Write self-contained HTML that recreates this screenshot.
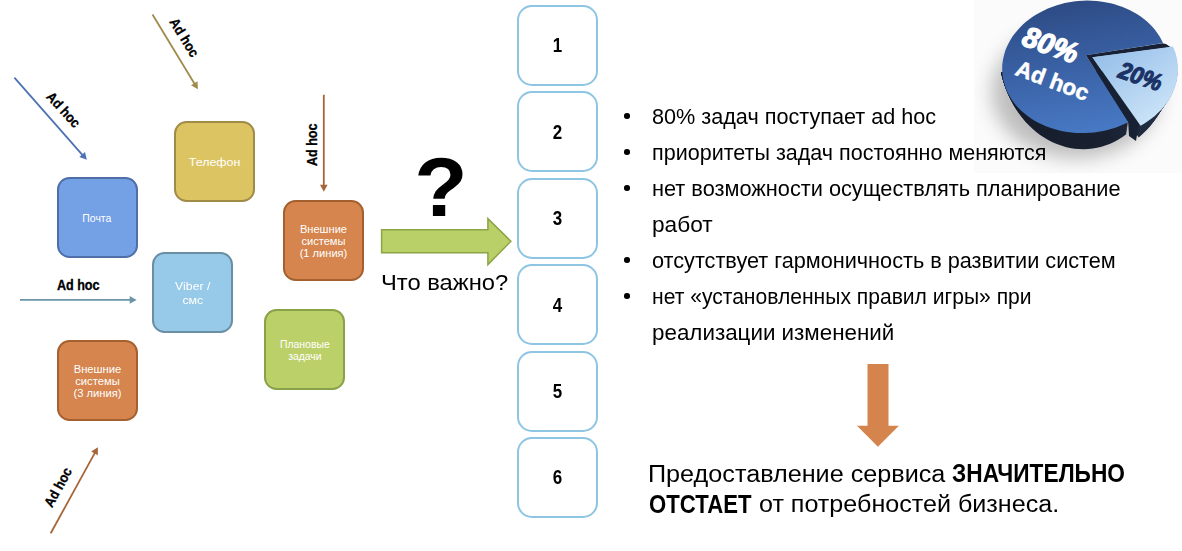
<!DOCTYPE html>
<html><head><meta charset="utf-8">
<style>
html,body{margin:0;padding:0;background:#fff;}
body{width:1182px;height:551px;position:relative;overflow:hidden;font-family:"Liberation Sans",sans-serif;color:#000;}
.a{position:absolute;white-space:nowrap;}
.box{position:absolute;box-sizing:border-box;width:81px;height:81px;border-radius:12.5px;border:2px solid;color:#fff;font-size:10px;line-height:12px;text-align:center;display:flex;align-items:center;justify-content:center;}
.nb{position:absolute;box-sizing:border-box;left:516.8px;width:81.3px;height:81.2px;padding-top:1px;border-radius:15px;border:2.2px solid #8ec5e3;font-weight:bold;font-size:19.5px;text-align:center;display:flex;align-items:center;justify-content:center;}
.nb span{display:inline-block;transform:scaleX(0.87);}
.box span{display:inline-block;}
.lbl{position:absolute;font-weight:bold;font-size:12.5px;white-space:nowrap;transform-origin:center center;}
.bul{position:absolute;width:5.6px;height:5.6px;border-radius:50%;background:#000;left:624.2px;}
.t{position:absolute;white-space:nowrap;font-size:20px;transform-origin:0 0;color:#000;}
</style></head>
<body>
<svg class="a" style="left:0;top:0" width="1182" height="551">
<line x1="152.5" y1="14.5" x2="194.8" y2="84.2" stroke="#9f8b4c" stroke-width="1.8"/>
<polygon points="197.9,89.3 191.0,85.3 197.5,81.3" fill="#9f8b4c"/>
<line x1="14.4" y1="77.6" x2="82.8" y2="155.3" stroke="#4d72b3" stroke-width="1.8"/>
<polygon points="86.8,159.8 79.3,157.1 85.0,152.0" fill="#4d72b3"/>
<line x1="323.8" y1="94.8" x2="323.8" y2="185.7" stroke="#a8653a" stroke-width="1.8"/>
<polygon points="323.8,191.7 320.0,184.7 327.6,184.7" fill="#a8653a"/>
<line x1="20.0" y1="299.9" x2="130.7" y2="299.9" stroke="#6d95aa" stroke-width="1.8"/>
<polygon points="136.7,299.9 129.7,303.7 129.7,296.1" fill="#6d95aa"/>
<line x1="50.7" y1="533.3" x2="95.0" y2="452.6" stroke="#a8653a" stroke-width="1.8"/>
<polygon points="97.9,447.3 97.9,455.3 91.2,451.6" fill="#a8653a"/>
<g font-family="Liberation Sans" font-weight="bold" font-size="14" text-anchor="middle" fill="#000" stroke="#000" stroke-width="0.3">
<text id="ah1" transform="translate(184.3,37.5) rotate(58.7) scale(0.9,1)" y="4.8">Ad hoc</text>
<text id="ah2" transform="translate(63.5,109.75) rotate(47.5) scale(0.9,1)" y="4.8">Ad hoc</text>
<text id="ah3" transform="translate(312.6,144.8) rotate(-90) scale(0.9,1)" y="4.8">Ad hoc</text>
<text id="ah4" transform="translate(78.2,285) scale(0.9,1)" y="4.8">Ad hoc</text>
<text id="ah5" transform="translate(58,487.25) rotate(-61.2) scale(0.9,1)" y="4.8">Ad hoc</text>
</g>
<polygon points="381.6,229.75 487.9,229.75 487.9,218.6 510.9,241.3 487.9,264.6 487.9,252.75 381.6,252.75" fill="#b9cf68" stroke="#8da446" stroke-width="1.5"/>
<text id="qm" x="0" y="0" transform="translate(441,216) scale(1.042,1)" font-family="Liberation Sans" font-weight="bold" font-size="83.7" text-anchor="middle">?</text>
<polygon points="867.5,364 888.5,364 888.5,425.8 898.9,425.8 877.9,446.8 857,425.8 867.5,425.8" fill="#d4844c"/>
</svg>

<div class="box" style="left:174px;top:121px;background:#dcc462;border-color:#a08c48;font-size:11px;"><span style="transform:scaleX(1.13) translate(-0.2px,-0.5px)">Телефон</span></div>
<div class="box" style="left:57px;top:177px;background:#74a0e6;border-color:#4f6fa8;font-size:11px;"><span style="transform:scaleX(0.95) translate(-0.5px,0px)">Почта</span></div>
<div class="box" style="left:283px;top:200px;background:#d5854d;border-color:#a5602f;"><span style="transform:scaleX(1.11) translate(0px,0.6px)">Внешние<br>системы<br>(1 линия)</span></div>
<div class="box" style="left:152px;top:252px;background:#97c9e8;border-color:#6a8fa5;font-size:11px;line-height:14px;"><span style="transform:scaleX(1.12) translate(0px,0px)">Viber /<br>смс</span></div>
<div class="box" style="left:264px;top:309px;background:#bcd069;border-color:#8aa148;"><span style="transform:scaleX(1.04) translate(0px,0.5px)">Плановые<br>задачи</span></div>
<div class="box" style="left:57px;top:340px;background:#d5854d;border-color:#a5602f;"><span style="transform:scaleX(1.12) translate(0px,0.5px)">Внешние<br>системы<br>(3 линия)</span></div>

<div class="nb" style="top:4.9px"><span>1</span></div>
<div class="nb" style="top:91.3px"><span>2</span></div>
<div class="nb" style="top:177.7px"><span>3</span></div>
<div class="nb" style="top:264.1px"><span>4</span></div>
<div class="nb" style="top:350.5px"><span>5</span></div>
<div class="nb" style="top:436.9px"><span>6</span></div>

<svg class="a" style="left:0;top:0" width="1182" height="551" id="pie">
<defs>
<linearGradient id="gm" gradientUnits="userSpaceOnUse" x1="1070" y1="0" x2="1090" y2="130"><stop offset="0" stop-color="#2d4b84"/><stop offset="0.5" stop-color="#3a61a5"/><stop offset="1" stop-color="#4778c3"/></linearGradient>
<linearGradient id="gs" gradientUnits="userSpaceOnUse" x1="1100" y1="50" x2="1150" y2="125"><stop offset="0" stop-color="#96bee9"/><stop offset="1" stop-color="#cbe4f8"/></linearGradient>
<linearGradient id="gd" gradientUnits="userSpaceOnUse" x1="1000" y1="0" x2="1180" y2="0"><stop offset="0" stop-color="#161c2a"/><stop offset="0.6" stop-color="#192131"/><stop offset="1" stop-color="#27344d"/></linearGradient>
<filter id="bl" x="-50%" y="-50%" width="200%" height="200%"><feGaussianBlur stdDeviation="10"/></filter>
<clipPath id="cm"><polygon points="980,74.1 1190,59.6 1190,200 980,200"/></clipPath>
<clipPath id="cs"><polygon points="980,79.4 1190,65.2 1190,200 980,200"/></clipPath>
<clipPath id="imgclip"><rect x="974" y="0" width="208" height="173"/></clipPath>
</defs>
<g clip-path="url(#imgclip)">
<rect x="974" y="0" width="208" height="173" fill="#fbfbfb"/>
<ellipse cx="1076" cy="92" rx="84" ry="66" fill="#000" opacity="0.25" filter="url(#bl)"/>
</g>
<g fill="url(#gd)"><g clip-path="url(#cm)"><path d="M1085.9,67.2 L1158.4,15.9 L1156.7,10.8 L1154.7,5.8 L1152.5,0.9 L1150.1,-3.8 L1147.5,-8.3 L1144.7,-12.7 L1141.7,-16.9 L1138.5,-20.9 L1135.2,-24.7 L1131.6,-28.3 L1128.0,-31.6 L1124.2,-34.7 L1120.2,-37.5 L1116.2,-40.1 L1112.0,-42.4 L1107.8,-44.5 L1103.4,-46.2 L1099.0,-47.7 L1094.6,-48.9 L1090.1,-49.8 L1085.6,-50.4 L1081.0,-50.7 L1076.5,-50.7 L1072.0,-50.4 L1067.5,-49.8 L1063.0,-48.9 L1058.6,-47.7 L1054.3,-46.2 L1050.1,-44.4 L1045.9,-42.4 L1041.8,-40.1 L1037.9,-37.5 L1034.1,-34.6 L1030.4,-31.5 L1026.9,-28.2 L1023.6,-24.6 L1020.4,-20.8 L1017.4,-16.8 L1014.6,-12.6 L1012.0,-8.2 L1009.5,-3.7 L1007.4,1.0 L1005.4,5.9 L1003.6,10.9 L1002.1,16.0 L1000.8,21.2 L999.8,26.5 L999.0,31.9 L998.5,37.3 L998.2,42.7 L998.1,48.2 L998.3,53.6 L998.7,59.1 L999.4,64.5 L1000.4,69.9 L1001.5,75.2 L1003.0,80.5 L1004.6,85.6 L1006.5,90.7 L1008.6,95.6 L1010.9,100.3 L1013.4,105.0 L1016.1,109.4 L1019.1,113.7 L1022.2,117.8 L1025.4,121.7 L1028.9,125.3 L1032.5,128.8 L1036.2,131.9 L1040.1,134.9 L1044.1,137.6 L1048.2,140.0 L1052.5,142.2 L1056.8,144.0 L1061.1,145.6 L1065.6,146.9 L1070.0,148.0 L1074.6,148.7 L1079.1,149.1 L1083.6,149.2 L1088.1,149.0 L1092.7,148.6 L1097.1,147.8 L1101.5,146.7 L1105.9,145.3 L1110.2,143.7 L1114.4,141.8 L1118.5,139.6 L1122.5,137.1 L1126.3,134.3Z"/><path d="M1085.9,66.2 L1158.8,18.2 L1157.0,13.2 L1155.1,8.3 L1152.9,3.6 L1150.5,-0.9 L1147.9,-5.4 L1145.1,-9.6 L1142.1,-13.7 L1139.0,-17.6 L1135.6,-21.3 L1132.1,-24.7 L1128.5,-28.0 L1124.7,-31.0 L1120.7,-33.7 L1116.7,-36.2 L1112.5,-38.5 L1108.3,-40.4 L1104.0,-42.1 L1099.6,-43.6 L1095.1,-44.7 L1090.6,-45.6 L1086.1,-46.1 L1081.6,-46.4 L1077.0,-46.4 L1072.5,-46.1 L1068.0,-45.5 L1063.6,-44.6 L1059.2,-43.5 L1054.8,-42.0 L1050.6,-40.3 L1046.4,-38.3 L1042.4,-36.0 L1038.4,-33.5 L1034.6,-30.7 L1030.9,-27.7 L1027.4,-24.4 L1024.0,-21.0 L1020.8,-17.3 L1017.8,-13.4 L1015.0,-9.3 L1012.4,-5.0 L1010.0,-0.6 L1007.8,4.0 L1005.8,8.7 L1004.0,13.6 L1002.5,18.6 L1001.2,23.6 L1000.2,28.8 L999.4,34.0 L998.8,39.2 L998.5,44.5 L998.4,49.8 L998.6,55.2 L999.1,60.5 L999.7,65.7 L1000.7,71.0 L1001.8,76.1 L1003.2,81.2 L1004.9,86.2 L1006.7,91.1 L1008.8,95.9 L1011.1,100.5 L1013.6,105.0 L1016.3,109.3 L1019.3,113.5 L1022.4,117.4 L1025.6,121.2 L1029.1,124.8 L1032.7,128.1 L1036.4,131.2 L1040.3,134.0 L1044.3,136.6 L1048.4,139.0 L1052.6,141.1 L1056.9,142.9 L1061.3,144.4 L1065.7,145.7 L1070.2,146.7 L1074.7,147.4 L1079.2,147.8 L1083.7,147.9 L1088.3,147.7 L1092.8,147.2 L1097.3,146.4 L1101.7,145.4 L1106.0,144.1 L1110.3,142.5 L1114.5,140.6 L1118.6,138.4 L1122.6,136.0 L1126.5,133.3Z"/><path d="M1085.9,65.2 L1159.2,20.4 L1157.4,15.6 L1155.5,10.9 L1153.3,6.3 L1150.9,1.9 L1148.4,-2.4 L1145.6,-6.5 L1142.6,-10.5 L1139.4,-14.3 L1136.1,-17.8 L1132.6,-21.2 L1128.9,-24.3 L1125.1,-27.2 L1121.2,-29.9 L1117.2,-32.3 L1113.0,-34.5 L1108.8,-36.4 L1104.5,-38.0 L1100.1,-39.4 L1095.6,-40.5 L1091.1,-41.3 L1086.6,-41.9 L1082.1,-42.1 L1077.6,-42.1 L1073.0,-41.8 L1068.5,-41.2 L1064.1,-40.4 L1059.7,-39.2 L1055.3,-37.8 L1051.1,-36.1 L1046.9,-34.2 L1042.9,-32.0 L1038.9,-29.5 L1035.1,-26.8 L1031.4,-23.9 L1027.9,-20.7 L1024.5,-17.3 L1021.3,-13.7 L1018.3,-9.9 L1015.5,-5.9 L1012.8,-1.8 L1010.4,2.5 L1008.2,7.0 L1006.2,11.6 L1004.5,16.3 L1002.9,21.1 L1001.6,26.0 L1000.6,31.0 L999.8,36.1 L999.2,41.2 L998.9,46.3 L998.8,51.5 L999.0,56.7 L999.4,61.8 L1000.0,66.9 L1001.0,72.0 L1002.1,77.0 L1003.5,82.0 L1005.1,86.8 L1007.0,91.6 L1009.1,96.2 L1011.4,100.7 L1013.9,105.0 L1016.6,109.2 L1019.5,113.3 L1022.6,117.1 L1025.8,120.7 L1029.3,124.2 L1032.8,127.4 L1036.6,130.4 L1040.5,133.2 L1044.4,135.7 L1048.6,138.0 L1052.8,140.0 L1057.0,141.7 L1061.4,143.2 L1065.8,144.4 L1070.3,145.4 L1074.8,146.0 L1079.3,146.4 L1083.9,146.5 L1088.4,146.3 L1092.9,145.9 L1097.4,145.1 L1101.8,144.1 L1106.2,142.8 L1110.5,141.2 L1114.7,139.4 L1118.8,137.3 L1122.8,134.9 L1126.7,132.3Z"/><path d="M1085.9,64.2 L1159.5,22.7 L1157.8,18.0 L1155.9,13.4 L1153.7,9.0 L1151.4,4.7 L1148.8,0.5 L1146.0,-3.5 L1143.0,-7.3 L1139.9,-10.9 L1136.5,-14.4 L1133.1,-17.6 L1129.4,-20.7 L1125.6,-23.5 L1121.7,-26.0 L1117.7,-28.4 L1113.5,-30.5 L1109.3,-32.3 L1105.0,-33.9 L1100.6,-35.2 L1096.1,-36.3 L1091.7,-37.1 L1087.1,-37.6 L1082.6,-37.9 L1078.1,-37.8 L1073.6,-37.5 L1069.1,-36.9 L1064.6,-36.1 L1060.2,-35.0 L1055.9,-33.6 L1051.6,-32.0 L1047.4,-30.1 L1043.4,-27.9 L1039.4,-25.5 L1035.6,-22.9 L1031.9,-20.0 L1028.4,-16.9 L1025.0,-13.7 L1021.8,-10.2 L1018.8,-6.5 L1015.9,-2.6 L1013.3,1.4 L1010.9,5.6 L1008.6,9.9 L1006.6,14.4 L1004.9,19.0 L1003.3,23.7 L1002.0,28.4 L1000.9,33.3 L1000.1,38.2 L999.5,43.2 L999.2,48.1 L999.1,53.2 L999.3,58.2 L999.7,63.2 L1000.4,68.1 L1001.3,73.0 L1002.4,77.9 L1003.8,82.7 L1005.4,87.4 L1007.2,92.0 L1009.3,96.5 L1011.6,100.8 L1014.1,105.1 L1016.8,109.1 L1019.7,113.0 L1022.8,116.7 L1026.0,120.3 L1029.4,123.6 L1033.0,126.7 L1036.8,129.6 L1040.6,132.3 L1044.6,134.8 L1048.7,137.0 L1052.9,138.9 L1057.2,140.6 L1061.6,142.0 L1066.0,143.2 L1070.4,144.1 L1074.9,144.7 L1079.5,145.1 L1084.0,145.2 L1088.5,145.0 L1093.0,144.5 L1097.5,143.8 L1101.9,142.8 L1106.3,141.5 L1110.6,140.0 L1114.8,138.2 L1118.9,136.1 L1122.9,133.8 L1126.8,131.3Z"/><path d="M1085.9,63.2 L1159.9,24.9 L1158.2,20.4 L1156.3,16.0 L1154.1,11.7 L1151.8,7.5 L1149.2,3.5 L1146.4,-0.4 L1143.5,-4.1 L1140.3,-7.6 L1137.0,-10.9 L1133.5,-14.1 L1129.9,-17.0 L1126.1,-19.7 L1122.2,-22.2 L1118.2,-24.5 L1114.0,-26.5 L1109.8,-28.3 L1105.5,-29.8 L1101.1,-31.1 L1096.7,-32.1 L1092.2,-32.9 L1087.7,-33.4 L1083.1,-33.6 L1078.6,-33.5 L1074.1,-33.2 L1069.6,-32.7 L1065.1,-31.8 L1060.7,-30.7 L1056.4,-29.4 L1052.1,-27.8 L1047.9,-25.9 L1043.9,-23.9 L1039.9,-21.5 L1036.1,-19.0 L1032.4,-16.2 L1028.8,-13.2 L1025.5,-10.0 L1022.3,-6.6 L1019.2,-3.0 L1016.4,0.7 L1013.7,4.6 L1011.3,8.7 L1009.1,12.9 L1007.1,17.2 L1005.3,21.7 L1003.7,26.2 L1002.4,30.9 L1001.3,35.6 L1000.5,40.3 L999.9,45.1 L999.6,50.0 L999.5,54.8 L999.6,59.7 L1000.0,64.5 L1000.7,69.3 L1001.5,74.1 L1002.7,78.8 L1004.0,83.4 L1005.7,88.0 L1007.5,92.4 L1009.5,96.8 L1011.8,101.0 L1014.3,105.1 L1017.0,109.0 L1019.9,112.8 L1023.0,116.4 L1026.2,119.8 L1029.6,123.0 L1033.2,126.1 L1036.9,128.9 L1040.8,131.5 L1044.8,133.8 L1048.9,135.9 L1053.1,137.8 L1057.3,139.4 L1061.7,140.8 L1066.1,141.9 L1070.6,142.8 L1075.1,143.4 L1079.6,143.8 L1084.1,143.8 L1088.7,143.6 L1093.2,143.2 L1097.6,142.4 L1102.1,141.5 L1106.4,140.2 L1110.7,138.7 L1115.0,137.0 L1119.1,135.0 L1123.1,132.8 L1127.0,130.3Z"/><path d="M1085.9,62.2 L1160.3,27.2 L1158.6,22.8 L1156.7,18.5 L1154.6,14.4 L1152.2,10.3 L1149.6,6.5 L1146.9,2.7 L1143.9,-0.9 L1140.8,-4.3 L1137.5,-7.5 L1134.0,-10.5 L1130.4,-13.4 L1126.6,-16.0 L1122.7,-18.4 L1118.7,-20.6 L1114.5,-22.5 L1110.3,-24.2 L1106.0,-25.7 L1101.6,-26.9 L1097.2,-27.9 L1092.7,-28.6 L1088.2,-29.1 L1083.6,-29.3 L1079.1,-29.3 L1074.6,-29.0 L1070.1,-28.4 L1065.6,-27.6 L1061.2,-26.5 L1056.9,-25.2 L1052.6,-23.6 L1048.4,-21.8 L1044.4,-19.8 L1040.4,-17.5 L1036.6,-15.1 L1032.9,-12.4 L1029.3,-9.5 L1025.9,-6.3 L1022.7,-3.1 L1019.7,0.4 L1016.8,4.1 L1014.2,7.9 L1011.7,11.8 L1009.5,15.9 L1007.5,20.1 L1005.7,24.4 L1004.1,28.8 L1002.8,33.3 L1001.7,37.8 L1000.9,42.4 L1000.3,47.1 L999.9,51.8 L999.8,56.5 L999.9,61.2 L1000.3,65.9 L1001.0,70.5 L1001.8,75.1 L1003.0,79.7 L1004.3,84.2 L1005.9,88.6 L1007.7,92.9 L1009.8,97.1 L1012.1,101.2 L1014.5,105.1 L1017.2,108.9 L1020.1,112.6 L1023.2,116.1 L1026.4,119.4 L1029.8,122.5 L1033.4,125.4 L1037.1,128.1 L1040.9,130.6 L1044.9,132.9 L1049.0,134.9 L1053.2,136.7 L1057.5,138.3 L1061.8,139.6 L1066.2,140.7 L1070.7,141.5 L1075.2,142.1 L1079.7,142.4 L1084.3,142.5 L1088.8,142.3 L1093.3,141.8 L1097.8,141.1 L1102.2,140.1 L1106.6,138.9 L1110.9,137.5 L1115.1,135.8 L1119.2,133.8 L1123.2,131.7 L1127.1,129.3Z"/><path d="M1085.9,61.2 L1160.7,29.4 L1159.0,25.2 L1157.1,21.1 L1155.0,17.1 L1152.6,13.2 L1150.1,9.4 L1147.3,5.8 L1144.4,2.3 L1141.2,-0.9 L1137.9,-4.1 L1134.5,-7.0 L1130.8,-9.7 L1127.1,-12.2 L1123.2,-14.6 L1119.2,-16.7 L1115.0,-18.5 L1110.8,-20.2 L1106.5,-21.6 L1102.1,-22.8 L1097.7,-23.7 L1093.2,-24.4 L1088.7,-24.8 L1084.2,-25.0 L1079.6,-25.0 L1075.1,-24.7 L1070.6,-24.1 L1066.2,-23.3 L1061.7,-22.3 L1057.4,-21.0 L1053.1,-19.5 L1049.0,-17.7 L1044.9,-15.8 L1040.9,-13.6 L1037.1,-11.1 L1033.4,-8.5 L1029.8,-5.7 L1026.4,-2.7 L1023.2,0.5 L1020.1,3.9 L1017.3,7.4 L1014.6,11.1 L1012.2,14.9 L1009.9,18.8 L1007.9,22.9 L1006.1,27.1 L1004.5,31.3 L1003.2,35.7 L1002.1,40.1 L1001.2,44.5 L1000.6,49.1 L1000.3,53.6 L1000.1,58.1 L1000.3,62.7 L1000.6,67.2 L1001.3,71.7 L1002.1,76.2 L1003.3,80.6 L1004.6,84.9 L1006.2,89.2 L1008.0,93.3 L1010.0,97.4 L1012.3,101.3 L1014.8,105.2 L1017.4,108.8 L1020.3,112.4 L1023.4,115.7 L1026.6,118.9 L1030.0,121.9 L1033.6,124.7 L1037.3,127.3 L1041.1,129.7 L1045.1,131.9 L1049.2,133.9 L1053.3,135.6 L1057.6,137.1 L1062.0,138.4 L1066.4,139.5 L1070.8,140.2 L1075.3,140.8 L1079.9,141.1 L1084.4,141.1 L1088.9,140.9 L1093.4,140.5 L1097.9,139.8 L1102.3,138.8 L1106.7,137.7 L1111.0,136.2 L1115.2,134.6 L1119.4,132.7 L1123.4,130.6 L1127.3,128.3Z"/><path d="M1085.9,60.2 L1161.1,31.7 L1159.4,27.6 L1157.5,23.6 L1155.4,19.7 L1153.0,16.0 L1150.5,12.4 L1147.7,8.9 L1144.8,5.5 L1141.7,2.4 L1138.4,-0.6 L1134.9,-3.4 L1131.3,-6.1 L1127.6,-8.5 L1123.7,-10.7 L1119.6,-12.8 L1115.5,-14.6 L1111.3,-16.1 L1107.0,-17.5 L1102.6,-18.6 L1098.2,-19.5 L1093.7,-20.2 L1089.2,-20.6 L1084.7,-20.8 L1080.2,-20.7 L1075.6,-20.4 L1071.1,-19.8 L1066.7,-19.1 L1062.3,-18.0 L1057.9,-16.8 L1053.6,-15.3 L1049.5,-13.6 L1045.4,-11.7 L1041.4,-9.6 L1037.6,-7.2 L1033.9,-4.7 L1030.3,-2.0 L1026.9,1.0 L1023.7,4.1 L1020.6,7.3 L1017.7,10.7 L1015.1,14.3 L1012.6,18.0 L1010.4,21.8 L1008.3,25.7 L1006.5,29.8 L1004.9,33.9 L1003.6,38.1 L1002.5,42.3 L1001.6,46.7 L1001.0,51.0 L1000.6,55.4 L1000.5,59.8 L1000.6,64.2 L1001.0,68.6 L1001.6,72.9 L1002.4,77.2 L1003.5,81.5 L1004.9,85.7 L1006.4,89.8 L1008.3,93.8 L1010.3,97.7 L1012.5,101.5 L1015.0,105.2 L1017.6,108.7 L1020.5,112.1 L1023.6,115.4 L1026.8,118.4 L1030.2,121.3 L1033.7,124.0 L1037.4,126.6 L1041.3,128.9 L1045.2,131.0 L1049.3,132.9 L1053.5,134.5 L1057.8,136.0 L1062.1,137.2 L1066.5,138.2 L1071.0,139.0 L1075.5,139.5 L1080.0,139.7 L1084.5,139.8 L1089.1,139.6 L1093.6,139.1 L1098.0,138.4 L1102.5,137.5 L1106.9,136.4 L1111.2,135.0 L1115.4,133.4 L1119.5,131.5 L1123.5,129.5 L1127.4,127.2Z"/><path d="M1085.9,59.2 L1161.4,33.9 L1159.8,30.0 L1157.9,26.2 L1155.8,22.4 L1153.5,18.8 L1150.9,15.3 L1148.2,12.0 L1145.3,8.8 L1142.1,5.7 L1138.9,2.8 L1135.4,0.1 L1131.8,-2.4 L1128.0,-4.8 L1124.1,-6.9 L1120.1,-8.8 L1116.0,-10.6 L1111.8,-12.1 L1107.5,-13.4 L1103.1,-14.5 L1098.7,-15.3 L1094.2,-15.9 L1089.7,-16.3 L1085.2,-16.5 L1080.7,-16.4 L1076.2,-16.1 L1071.7,-15.6 L1067.2,-14.8 L1062.8,-13.8 L1058.4,-12.6 L1054.2,-11.2 L1050.0,-9.5 L1045.9,-7.6 L1041.9,-5.6 L1038.1,-3.3 L1034.3,-0.9 L1030.8,1.8 L1027.4,4.6 L1024.1,7.6 L1021.1,10.8 L1018.2,14.1 L1015.5,17.5 L1013.0,21.1 L1010.8,24.8 L1008.7,28.6 L1006.9,32.5 L1005.3,36.4 L1004.0,40.5 L1002.8,44.6 L1002.0,48.8 L1001.3,53.0 L1001.0,57.2 L1000.8,61.4 L1000.9,65.7 L1001.3,69.9 L1001.9,74.1 L1002.7,78.3 L1003.8,82.4 L1005.1,86.4 L1006.7,90.4 L1008.5,94.2 L1010.5,98.0 L1012.8,101.7 L1015.2,105.2 L1017.9,108.6 L1020.7,111.9 L1023.8,115.0 L1027.0,118.0 L1030.4,120.8 L1033.9,123.4 L1037.6,125.8 L1041.4,128.0 L1045.4,130.0 L1049.5,131.9 L1053.6,133.5 L1057.9,134.8 L1062.3,136.0 L1066.7,137.0 L1071.1,137.7 L1075.6,138.2 L1080.1,138.4 L1084.7,138.4 L1089.2,138.2 L1093.7,137.8 L1098.2,137.1 L1102.6,136.2 L1107.0,135.1 L1111.3,133.7 L1115.5,132.2 L1119.6,130.4 L1123.7,128.4 L1127.6,126.2Z"/><path d="M1085.9,58.2 L1161.8,36.2 L1160.2,32.4 L1158.3,28.7 L1156.2,25.1 L1153.9,21.6 L1151.3,18.3 L1148.6,15.0 L1145.7,12.0 L1142.6,9.0 L1139.3,6.3 L1135.9,3.7 L1132.3,1.2 L1128.5,-1.0 L1124.6,-3.1 L1120.6,-4.9 L1116.5,-6.6 L1112.3,-8.0 L1108.0,-9.3 L1103.7,-10.3 L1099.2,-11.1 L1094.8,-11.7 L1090.2,-12.1 L1085.7,-12.2 L1081.2,-12.1 L1076.7,-11.8 L1072.2,-11.3 L1067.7,-10.5 L1063.3,-9.6 L1058.9,-8.4 L1054.7,-7.0 L1050.5,-5.4 L1046.4,-3.6 L1042.4,-1.6 L1038.6,0.6 L1034.8,3.0 L1031.3,5.5 L1027.8,8.3 L1024.6,11.2 L1021.5,14.2 L1018.7,17.4 L1016.0,20.7 L1013.5,24.2 L1011.2,27.7 L1009.2,31.4 L1007.3,35.2 L1005.7,39.0 L1004.4,42.9 L1003.2,46.9 L1002.3,50.9 L1001.7,54.9 L1001.3,59.0 L1001.2,63.1 L1001.3,67.2 L1001.6,71.3 L1002.2,75.3 L1003.0,79.3 L1004.1,83.2 L1005.4,87.1 L1007.0,91.0 L1008.8,94.7 L1010.8,98.3 L1013.0,101.8 L1015.4,105.3 L1018.1,108.5 L1020.9,111.7 L1024.0,114.7 L1027.2,117.5 L1030.5,120.2 L1034.1,122.7 L1037.8,125.0 L1041.6,127.1 L1045.6,129.1 L1049.6,130.8 L1053.8,132.4 L1058.1,133.7 L1062.4,134.8 L1066.8,135.7 L1071.3,136.4 L1075.7,136.8 L1080.3,137.1 L1084.8,137.1 L1089.3,136.9 L1093.8,136.4 L1098.3,135.8 L1102.7,134.9 L1107.1,133.8 L1111.4,132.5 L1115.7,131.0 L1119.8,129.3 L1123.8,127.3 L1127.7,125.2Z"/><path d="M1085.9,57.2 L1162.2,38.4 L1160.6,34.8 L1158.7,31.2 L1156.6,27.8 L1154.3,24.5 L1151.8,21.2 L1149.1,18.1 L1146.1,15.2 L1143.0,12.4 L1139.8,9.7 L1136.3,7.2 L1132.7,4.9 L1129.0,2.7 L1125.1,0.8 L1121.1,-1.0 L1117.0,-2.6 L1112.8,-4.0 L1108.5,-5.2 L1104.2,-6.1 L1099.7,-6.9 L1095.3,-7.5 L1090.8,-7.8 L1086.2,-7.9 L1081.7,-7.8 L1077.2,-7.5 L1072.7,-7.0 L1068.2,-6.3 L1063.8,-5.3 L1059.5,-4.2 L1055.2,-2.8 L1051.0,-1.3 L1046.9,0.5 L1042.9,2.4 L1039.0,4.5 L1035.3,6.8 L1031.7,9.3 L1028.3,11.9 L1025.1,14.7 L1022.0,17.7 L1019.1,20.7 L1016.4,23.9 L1013.9,27.3 L1011.6,30.7 L1009.6,34.2 L1007.7,37.8 L1006.1,41.5 L1004.7,45.3 L1003.6,49.1 L1002.7,53.0 L1002.1,56.9 L1001.7,60.8 L1001.5,64.8 L1001.6,68.7 L1001.9,72.6 L1002.5,76.5 L1003.3,80.3 L1004.4,84.1 L1005.7,87.9 L1007.2,91.5 L1009.0,95.1 L1011.0,98.6 L1013.2,102.0 L1015.7,105.3 L1018.3,108.4 L1021.1,111.5 L1024.2,114.3 L1027.4,117.1 L1030.7,119.6 L1034.3,122.0 L1037.9,124.2 L1041.8,126.3 L1045.7,128.1 L1049.8,129.8 L1053.9,131.3 L1058.2,132.5 L1062.5,133.6 L1066.9,134.5 L1071.4,135.1 L1075.9,135.5 L1080.4,135.7 L1084.9,135.7 L1089.4,135.5 L1094.0,135.1 L1098.4,134.4 L1102.9,133.6 L1107.3,132.5 L1111.6,131.3 L1115.8,129.8 L1119.9,128.1 L1124.0,126.3 L1127.9,124.2Z"/><path d="M1085.9,56.2 L1162.6,40.7 L1160.9,37.2 L1159.1,33.8 L1157.0,30.5 L1154.7,27.3 L1152.2,24.2 L1149.5,21.2 L1146.6,18.4 L1143.5,15.7 L1140.2,13.1 L1136.8,10.7 L1133.2,8.5 L1129.5,6.5 L1125.6,4.6 L1121.6,2.9 L1117.5,1.4 L1113.3,0.1 L1109.0,-1.1 L1104.7,-2.0 L1100.3,-2.7 L1095.8,-3.2 L1091.3,-3.5 L1086.8,-3.7 L1082.2,-3.6 L1077.7,-3.2 L1073.2,-2.7 L1068.7,-2.0 L1064.3,-1.1 L1060.0,0.0 L1055.7,1.3 L1051.5,2.8 L1047.4,4.5 L1043.4,6.4 L1039.5,8.4 L1035.8,10.7 L1032.2,13.0 L1028.8,15.6 L1025.5,18.3 L1022.5,21.1 L1019.6,24.1 L1016.9,27.1 L1014.4,30.4 L1012.1,33.7 L1010.0,37.1 L1008.1,40.5 L1006.5,44.1 L1005.1,47.7 L1004.0,51.4 L1003.1,55.1 L1002.4,58.9 L1002.0,62.6 L1001.8,66.4 L1001.9,70.2 L1002.2,74.0 L1002.8,77.7 L1003.6,81.4 L1004.7,85.0 L1006.0,88.6 L1007.5,92.1 L1009.3,95.6 L1011.3,98.9 L1013.5,102.2 L1015.9,105.3 L1018.5,108.3 L1021.3,111.2 L1024.4,114.0 L1027.5,116.6 L1030.9,119.1 L1034.4,121.3 L1038.1,123.5 L1041.9,125.4 L1045.9,127.2 L1049.9,128.8 L1054.1,130.2 L1058.3,131.4 L1062.7,132.4 L1067.1,133.2 L1071.5,133.8 L1076.0,134.2 L1080.5,134.4 L1085.0,134.4 L1089.6,134.2 L1094.1,133.7 L1098.6,133.1 L1103.0,132.3 L1107.4,131.2 L1111.7,130.0 L1115.9,128.6 L1120.1,127.0 L1124.1,125.2 L1128.0,123.2Z"/></g><g clip-path="url(#cs)"><path d="M1092.4,71.3 L1168.3,19.0 L1169.6,23.2 L1170.8,27.5 L1171.8,31.9 L1172.6,36.3 L1173.3,40.7 L1173.8,45.1 L1174.1,49.6 L1174.3,54.1 L1174.3,58.6 L1174.1,63.1 L1173.8,67.5 L1173.3,71.9 L1172.6,76.3 L1171.8,80.7 L1170.8,85.0 L1169.7,89.2 L1168.4,93.4 L1166.9,97.4 L1165.3,101.4 L1163.5,105.3 L1161.6,109.1 L1159.6,112.8 L1157.4,116.3 L1155.1,119.8 L1152.6,123.1 L1150.1,126.2 L1147.4,129.3 L1144.6,132.1 L1141.7,134.8 L1138.7,137.4Z"/><path d="M1092.4,70.1 L1168.7,21.3 L1170.0,25.4 L1171.1,29.6 L1172.1,33.8 L1173.0,38.1 L1173.6,42.4 L1174.1,46.7 L1174.4,51.0 L1174.6,55.4 L1174.6,59.8 L1174.4,64.1 L1174.1,68.4 L1173.6,72.7 L1172.9,77.0 L1172.1,81.2 L1171.1,85.4 L1169.9,89.5 L1168.6,93.6 L1167.1,97.5 L1165.5,101.4 L1163.8,105.2 L1161.8,108.9 L1159.8,112.5 L1157.6,115.9 L1155.3,119.3 L1152.8,122.5 L1150.3,125.6 L1147.6,128.5 L1144.8,131.3 L1141.9,133.9 L1138.8,136.4Z"/><path d="M1092.4,69.0 L1169.1,23.6 L1170.4,27.6 L1171.5,31.6 L1172.5,35.7 L1173.3,39.9 L1174.0,44.0 L1174.4,48.2 L1174.8,52.5 L1174.9,56.7 L1174.9,60.9 L1174.7,65.2 L1174.4,69.4 L1173.8,73.5 L1173.2,77.7 L1172.3,81.8 L1171.3,85.8 L1170.2,89.8 L1168.8,93.8 L1167.4,97.6 L1165.7,101.4 L1164.0,105.1 L1162.1,108.7 L1160.0,112.1 L1157.8,115.5 L1155.5,118.8 L1153.0,121.9 L1150.4,124.9 L1147.7,127.7 L1144.9,130.4 L1142.0,133.0 L1139.0,135.4Z"/><path d="M1092.4,67.8 L1169.5,25.9 L1170.8,29.7 L1171.9,33.7 L1172.8,37.6 L1173.6,41.7 L1174.3,45.7 L1174.8,49.8 L1175.1,53.9 L1175.2,58.0 L1175.2,62.1 L1175.0,66.2 L1174.6,70.3 L1174.1,74.3 L1173.4,78.4 L1172.6,82.3 L1171.6,86.3 L1170.4,90.2 L1169.1,94.0 L1167.6,97.7 L1166.0,101.4 L1164.2,105.0 L1162.3,108.4 L1160.2,111.8 L1158.0,115.1 L1155.7,118.2 L1153.2,121.3 L1150.6,124.2 L1147.9,127.0 L1145.1,129.6 L1142.2,132.1 L1139.2,134.5Z"/><path d="M1092.4,66.6 L1169.9,28.2 L1171.1,31.9 L1172.2,35.7 L1173.2,39.6 L1174.0,43.5 L1174.6,47.4 L1175.1,51.3 L1175.4,55.3 L1175.5,59.3 L1175.5,63.3 L1175.3,67.2 L1174.9,71.2 L1174.4,75.1 L1173.7,79.0 L1172.9,82.9 L1171.8,86.7 L1170.7,90.5 L1169.3,94.2 L1167.8,97.8 L1166.2,101.4 L1164.4,104.8 L1162.5,108.2 L1160.4,111.5 L1158.2,114.7 L1155.8,117.7 L1153.4,120.7 L1150.8,123.5 L1148.1,126.2 L1145.3,128.8 L1142.3,131.2 L1139.3,133.5Z"/><path d="M1092.4,65.5 L1170.2,30.5 L1171.5,34.1 L1172.6,37.8 L1173.6,41.5 L1174.3,45.3 L1175.0,49.1 L1175.4,52.9 L1175.7,56.7 L1175.8,60.6 L1175.8,64.4 L1175.6,68.3 L1175.2,72.1 L1174.7,75.9 L1174.0,79.7 L1173.1,83.5 L1172.1,87.2 L1170.9,90.8 L1169.6,94.4 L1168.1,97.9 L1166.4,101.3 L1164.6,104.7 L1162.7,108.0 L1160.6,111.2 L1158.4,114.2 L1156.0,117.2 L1153.6,120.1 L1151.0,122.8 L1148.2,125.4 L1145.4,127.9 L1142.5,130.3 L1139.5,132.5Z"/><path d="M1092.4,64.3 L1170.6,32.7 L1171.9,36.3 L1173.0,39.8 L1173.9,43.4 L1174.7,47.1 L1175.3,50.7 L1175.8,54.4 L1176.0,58.2 L1176.2,61.9 L1176.1,65.6 L1175.9,69.3 L1175.5,73.0 L1175.0,76.7 L1174.3,80.4 L1173.4,84.0 L1172.3,87.6 L1171.1,91.1 L1169.8,94.6 L1168.3,98.0 L1166.6,101.3 L1164.8,104.6 L1162.9,107.8 L1160.8,110.8 L1158.6,113.8 L1156.2,116.7 L1153.7,119.5 L1151.1,122.1 L1148.4,124.7 L1145.6,127.1 L1142.7,129.4 L1139.6,131.5Z"/><path d="M1092.4,63.1 L1171.0,35.0 L1172.3,38.4 L1173.3,41.9 L1174.3,45.3 L1175.0,48.9 L1175.6,52.4 L1176.1,56.0 L1176.4,59.6 L1176.5,63.2 L1176.4,66.8 L1176.2,70.4 L1175.8,74.0 L1175.2,77.5 L1174.5,81.1 L1173.6,84.6 L1172.6,88.0 L1171.4,91.4 L1170.0,94.8 L1168.5,98.1 L1166.9,101.3 L1165.0,104.5 L1163.1,107.5 L1161.0,110.5 L1158.8,113.4 L1156.4,116.2 L1153.9,118.9 L1151.3,121.5 L1148.6,123.9 L1145.8,126.3 L1142.8,128.5 L1139.8,130.6Z"/><path d="M1092.4,62.0 L1171.4,37.3 L1172.6,40.6 L1173.7,43.9 L1174.6,47.3 L1175.4,50.7 L1176.0,54.1 L1176.4,57.5 L1176.7,61.0 L1176.8,64.5 L1176.7,68.0 L1176.5,71.4 L1176.1,74.9 L1175.5,78.3 L1174.8,81.7 L1173.9,85.1 L1172.8,88.5 L1171.6,91.8 L1170.3,95.0 L1168.7,98.2 L1167.1,101.3 L1165.3,104.3 L1163.3,107.3 L1161.2,110.2 L1159.0,113.0 L1156.6,115.7 L1154.1,118.3 L1151.5,120.8 L1148.8,123.2 L1145.9,125.4 L1143.0,127.6 L1139.9,129.6Z"/><path d="M1092.4,60.8 L1171.8,39.6 L1173.0,42.8 L1174.1,46.0 L1175.0,49.2 L1175.7,52.5 L1176.3,55.8 L1176.7,59.1 L1177.0,62.4 L1177.1,65.8 L1177.0,69.1 L1176.8,72.5 L1176.4,75.8 L1175.8,79.1 L1175.1,82.4 L1174.2,85.7 L1173.1,88.9 L1171.9,92.1 L1170.5,95.2 L1169.0,98.3 L1167.3,101.3 L1165.5,104.2 L1163.5,107.1 L1161.4,109.9 L1159.2,112.6 L1156.8,115.2 L1154.3,117.7 L1151.7,120.1 L1148.9,122.4 L1146.1,124.6 L1143.1,126.7 L1140.1,128.6Z"/><path d="M1092.4,59.6 L1172.1,41.9 L1173.4,45.0 L1174.4,48.0 L1175.3,51.1 L1176.1,54.3 L1176.7,57.4 L1177.1,60.6 L1177.3,63.9 L1177.4,67.1 L1177.3,70.3 L1177.1,73.5 L1176.7,76.7 L1176.1,79.9 L1175.3,83.1 L1174.4,86.2 L1173.4,89.3 L1172.1,92.4 L1170.7,95.4 L1169.2,98.4 L1167.5,101.3 L1165.7,104.1 L1163.7,106.9 L1161.6,109.5 L1159.3,112.2 L1157.0,114.7 L1154.5,117.1 L1151.8,119.4 L1149.1,121.6 L1146.2,123.7 L1143.3,125.7 L1140.2,127.6Z"/><path d="M1092.4,58.5 L1172.5,44.2 L1173.7,47.1 L1174.8,50.1 L1175.7,53.1 L1176.4,56.1 L1177.0,59.1 L1177.4,62.2 L1177.7,65.3 L1177.7,68.4 L1177.6,71.5 L1177.4,74.6 L1176.9,77.6 L1176.4,80.7 L1175.6,83.8 L1174.7,86.8 L1173.6,89.8 L1172.4,92.7 L1171.0,95.6 L1169.4,98.5 L1167.7,101.3 L1165.9,104.0 L1163.9,106.6 L1161.8,109.2 L1159.5,111.7 L1157.2,114.2 L1154.6,116.5 L1152.0,118.7 L1149.3,120.9 L1146.4,122.9 L1143.5,124.8 L1140.4,126.7Z"/></g></g>
<polygon points="1162.1,43.2 1085.9,55.2 1128.2,122.2 1129,136 1136,141 1138.9,123.7 1092.4,57.3 1170.8,47.2 1166,44" fill="#182033"/>
<path d="M1085.9,55.2 L1163.0,42.9 L1161.3,39.6 L1159.5,36.3 L1157.4,33.2 L1155.1,30.1 L1152.6,27.1 L1149.9,24.3 L1147.0,21.6 L1144.0,19.0 L1140.7,16.6 L1137.3,14.3 L1133.7,12.2 L1130.0,10.2 L1126.1,8.4 L1122.1,6.8 L1118.0,5.4 L1113.8,4.1 L1109.5,3.0 L1105.2,2.2 L1100.8,1.5 L1096.3,1.0 L1091.8,0.7 L1087.3,0.6 L1082.8,0.7 L1078.2,1.0 L1073.7,1.5 L1069.3,2.2 L1064.8,3.1 L1060.5,4.2 L1056.2,5.5 L1052.0,6.9 L1047.9,8.6 L1043.9,10.4 L1040.0,12.4 L1036.3,14.5 L1032.7,16.8 L1029.3,19.2 L1026.0,21.8 L1022.9,24.5 L1020.0,27.4 L1017.3,30.4 L1014.8,33.4 L1012.5,36.6 L1010.4,39.9 L1008.6,43.2 L1006.9,46.7 L1005.5,50.1 L1004.4,53.7 L1003.5,57.2 L1002.8,60.8 L1002.3,64.5 L1002.2,68.1 L1002.2,71.7 L1002.5,75.3 L1003.1,78.9 L1003.9,82.4 L1005.0,85.9 L1006.2,89.4 L1007.8,92.7 L1009.5,96.0 L1011.5,99.2 L1013.7,102.4 L1016.1,105.4 L1018.7,108.2 L1021.5,111.0 L1024.6,113.6 L1027.7,116.1 L1031.1,118.5 L1034.6,120.7 L1038.3,122.7 L1042.1,124.6 L1046.0,126.3 L1050.1,127.8 L1054.2,129.1 L1058.5,130.2 L1062.8,131.2 L1067.2,132.0 L1071.7,132.5 L1076.1,132.9 L1080.7,133.1 L1085.2,133.0 L1089.7,132.8 L1094.2,132.4 L1098.7,131.8 L1103.1,131.0 L1107.5,130.0 L1111.8,128.8 L1116.1,127.4 L1120.2,125.8 L1124.3,124.1 L1128.2,122.2Z" fill="url(#gm)"/>
<path d="M1092.4,57.3 L1172.9,46.5 L1174.1,49.3 L1175.2,52.1 L1176.1,55.0 L1176.8,57.9 L1177.3,60.8 L1177.7,63.7 L1178.0,66.7 L1178.0,69.7 L1177.9,72.6 L1177.7,75.6 L1177.2,78.6 L1176.6,81.5 L1175.9,84.4 L1174.9,87.3 L1173.9,90.2 L1172.6,93.0 L1171.2,95.8 L1169.7,98.6 L1168.0,101.2 L1166.1,103.9 L1164.1,106.4 L1162.0,108.9 L1159.7,111.3 L1157.3,113.6 L1154.8,115.9 L1152.2,118.0 L1149.4,120.1 L1146.6,122.1 L1143.6,123.9 L1140.6,125.7Z" fill="url(#gs)"/>
<g font-family="Liberation Sans" font-weight="bold">
<text id="p80" transform="translate(1020.5,44.5) rotate(20) scale(0.98,1)" font-style="italic" font-size="29" fill="#fff" stroke="#fff" stroke-width="1.4">80%</text>
<text id="pad" transform="translate(1014,74.5) rotate(20.5)" font-size="22.5" fill="#fff" stroke="#fff" stroke-width="0.5">Ad hoc</text>
<text id="p20" transform="translate(1117,77) rotate(19) scale(0.92,1)" font-style="italic" font-size="24" fill="#1b3366" stroke="#1b3366" stroke-width="1.2">20%</text>
</g>
</svg>









<div class="bul" style="top:113.3px"></div>
<div class="bul" style="top:149.3px"></div>
<div class="bul" style="top:185.3px"></div>
<div class="bul" style="top:257.3px"></div>
<div class="bul" style="top:293.3px"></div>
<div class="t" id="l1" style="left:652px;top:103.8px;font-size:22px;transform:scaleX(0.983)">80% задач поступает ad hoc</div>
<div class="t" id="l2" style="left:652px;top:140px;font-size:22px;transform:scaleX(0.979)">приоритеты задач постоянно меняются</div>
<div class="t" id="l3" style="left:652px;top:176px;font-size:22px;transform:scaleX(0.988)">нет возможности осуществлять планирование</div>
<div class="t" id="l4" style="left:652px;top:212px;font-size:22px;transform:scaleX(1.03)">работ</div>
<div class="t" id="l5" style="left:652px;top:247.6px;font-size:22px;transform:scaleX(0.985)">отсутствует гармоничность в развитии систем</div>
<div class="t" id="l6" style="left:652px;top:283.5px;font-size:22px;transform:scaleX(0.958)">нет «установленных правил игры» при</div>
<div class="t" id="l7" style="left:652px;top:319.5px;font-size:22px;transform:scaleX(1.017)">реализации изменений</div>
<div class="t" id="f1" style="left:647.8px;top:461.4px;font-size:23.5px;transform:scaleX(1.072)">Предоставление сервиса</div>
<div class="t" id="f2" style="left:952.4px;top:459.2px;font-size:25.5px;font-weight:bold;color:#000;transform:scaleX(0.891)">ЗНАЧИТЕЛЬНО</div>
<div class="t" id="f3" style="left:649px;top:489.8px;font-size:25.5px;font-weight:bold;color:#000;transform:scaleX(0.868)">ОТСТАЕТ</div>
<div class="t" id="f4" style="left:759.4px;top:491.2px;font-size:23.5px;transform:scaleX(1.068)">от потребностей бизнеса.</div>
<div class="t" id="wq" style="left:380.8px;top:269.5px;font-size:21.8px;transform:scaleX(1.09)">Что важно?</div>
</body></html>
